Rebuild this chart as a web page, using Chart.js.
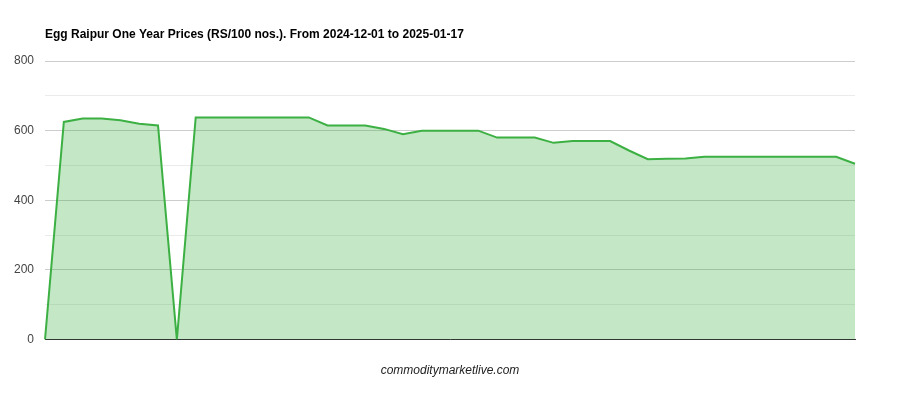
<!DOCTYPE html>
<html>
<head>
<meta charset="utf-8">
<script src="https://cdn.jsdelivr.net/npm/chart.js@4"></script>
<style>
  html, body { margin: 0; padding: 0; background: #fff; }
  #wrap { width: 900px; height: 400px; }
</style>
</head>
<body>
<div id="wrap"><canvas id="eggChart" width="900" height="400"></canvas></div>
<script>
const chartTitle = "Egg Raipur One Year Prices (RS/100 nos.). From 2024-12-01 to 2025-01-17";
const sourceLabel = "commoditymarketlive.com";

const dates = [
    "2024-12-01", "2024-12-02", "2024-12-03", "2024-12-04", "2024-12-05", "2024-12-06",
    "2024-12-07", "2024-12-09", "2024-12-10", "2024-12-11", "2024-12-12", "2024-12-13",
    "2024-12-14", "2024-12-16", "2024-12-17", "2024-12-18", "2024-12-19", "2024-12-20",
    "2024-12-21", "2024-12-23", "2024-12-24", "2024-12-25", "2024-12-26", "2024-12-27",
    "2024-12-28", "2024-12-30", "2024-12-31", "2025-01-01", "2025-01-02", "2025-01-03",
    "2025-01-04", "2025-01-06", "2025-01-07", "2025-01-08", "2025-01-09", "2025-01-10",
    "2025-01-11", "2025-01-12", "2025-01-13", "2025-01-14", "2025-01-15", "2025-01-16",
    "2025-01-17", "2025-01-18",
];

const prices = [
    0, 625, 635, 635, 630, 620, 615, 0, 638, 638,
    638, 638, 638, 638, 638, 615, 615, 615, 605, 590,
    600, 600, 600, 600, 580, 580, 580, 565, 570, 570,
    570, 543, 518, 519, 520, 525, 525, 525, 525, 525,
    525, 525, 525, 505,
];

const yTicks = [0, 200, 400, 600, 800];

// title drawn at the left edge of the plot area
const titlePlugin = {
    id: "leftTitle",
    afterDraw(chart) {
        const c = chart.ctx;
        c.save();
        c.font = "bold 12px 'Liberation Sans', Arial, sans-serif";
        c.fillStyle = "#000";
        c.textAlign = "left";
        c.textBaseline = "middle";
        c.fillText(chartTitle, chart.chartArea.left, 35);
        c.restore();
    },
};

let ctx = document.getElementById("eggChart").getContext("2d");
let eggChart = new Chart(ctx, {
    type: "line",
    data: {
        labels: dates,
        datasets: [
            {
                label: "Price",
                data: prices,
                borderColor: "#3cb043",
                backgroundColor: "rgba(60,176,67,0.3)",
                borderWidth: 2,
                fill: "origin",
                pointRadius: 0,
                tension: 0,
            },
        ],
    },
    options: {
        responsive: false,
        animation: false,
        layout: { padding: { top: 61, right: 45, bottom: 18, left: 0 } },
        plugins: {
            legend: { display: false },
            tooltip: { enabled: false },
        },
        scales: {
            x: {
                grid: { display: false, drawTicks: false },
                border: { display: true, color: "#333", width: 1 },
                ticks: { display: false },
                title: {
                    display: true,
                    text: sourceLabel,
                    color: "#222",
                    font: { family: "'Liberation Sans', Arial, sans-serif", size: 12, style: "italic" },
                    padding: { top: 24, bottom: 4 },
                },
            },
            y: {
                min: 0,
                max: 800,
                afterFit(scale) { scale.width = 45; },
                border: { display: false },
                grid: {
                    drawTicks: false,
                    color: (c) => (c.tick.value % 200 === 0 ? "#cccccc" : "#ebebeb"),
                },
                ticks: {
                    stepSize: 100,
                    padding: 11,
                    color: "#444",
                    font: { family: "'Liberation Sans', Arial, sans-serif", size: 12 },
                    callback: (v) => (yTicks.includes(v) ? v : ""),
                },
            },
        },
    },
    plugins: [titlePlugin],
});
</script>
</body>
</html>
